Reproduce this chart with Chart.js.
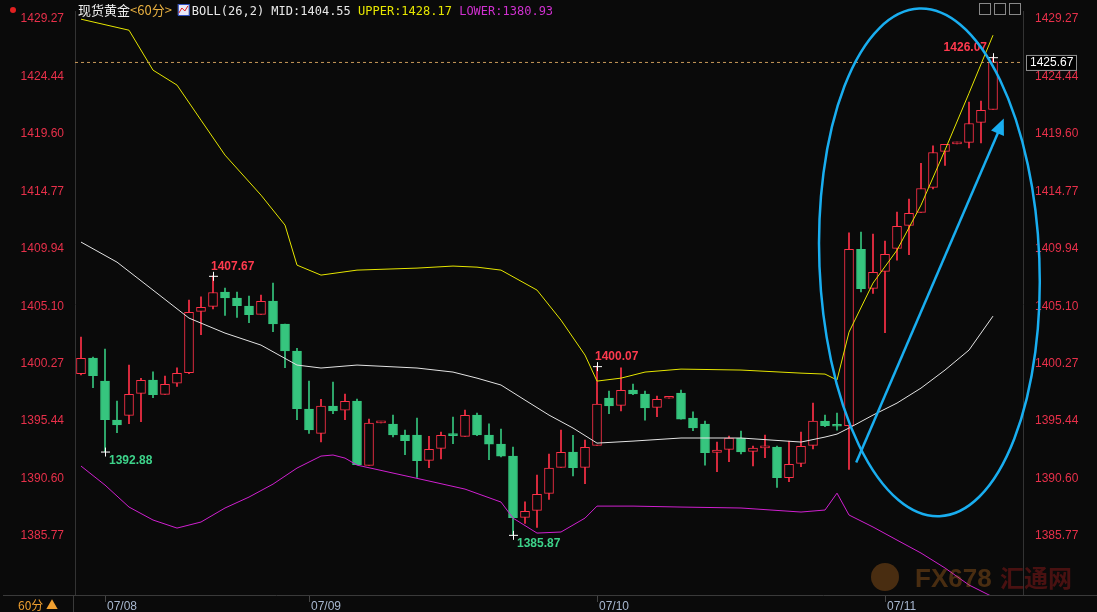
<!DOCTYPE html>
<html><head><meta charset="utf-8">
<script src="https://cdn.jsdelivr.net/npm/chart.js@4"></script>
<style>html,body{margin:0;padding:0;background:#0a0a0a;overflow:hidden}canvas{display:block}</style>
</head><body><canvas id="c" width="1097" height="612"></canvas>
<script>
// candles [open, high, low, close]
const opens  = [1399.43,1400.75,1398.81,1395.53,1395.92,1397.78,1398.90,1397.69,1398.64,1399.51,1404.68,1405.10,1406.30,1405.79,1405.12,1404.42,1405.54,1403.61,1401.34,1396.46,1394.41,1396.71,1396.37,1397.13,1391.72,1395.30,1395.19,1394.27,1394.27,1392.14,1393.15,1394.27,1394.16,1395.95,1394.27,1393.51,1392.50,1387.34,1387.93,1389.36,1391.55,1392.84,1391.55,1393.40,1397.38,1396.77,1398.05,1397.72,1396.60,1397.37,1397.80,1395.70,1395.19,1392.81,1393.06,1393.99,1392.90,1393.19,1393.26,1390.68,1391.89,1393.40,1395.45,1395.09,1395.05,1409.89,1406.61,1408.04,1409.98,1411.91,1413.01,1415.11,1418.14,1418.77,1418.90,1420.58,1421.67];
const closes = [1400.72,1399.26,1395.56,1395.13,1397.69,1398.87,1397.66,1398.53,1399.46,1404.59,1405.01,1406.27,1405.82,1405.15,1404.39,1405.52,1403.63,1401.36,1396.48,1394.71,1396.71,1396.31,1397.10,1391.77,1395.28,1395.38,1394.27,1393.79,1392.11,1393.06,1394.24,1394.22,1395.92,1394.27,1393.51,1392.50,1387.31,1387.85,1389.28,1391.49,1392.81,1391.52,1393.23,1396.88,1396.73,1398.03,1397.74,1396.56,1397.27,1397.45,1395.61,1394.88,1392.78,1393.01,1394.01,1392.86,1393.17,1393.27,1390.68,1391.80,1393.32,1395.45,1395.05,1395.01,1409.89,1406.58,1407.96,1409.47,1411.83,1412.92,1415.02,1418.05,1418.73,1418.85,1420.49,1421.59,1425.67];
const highs  = [1402.51,1400.83,1401.50,1397.13,1400.16,1399.04,1399.59,1399.23,1399.93,1405.63,1405.90,1407.67,1406.64,1406.30,1405.96,1406.05,1407.06,1403.61,1401.56,1398.81,1397.27,1398.73,1397.72,1397.30,1395.61,1395.40,1395.95,1394.69,1395.70,1394.16,1394.52,1395.78,1396.37,1396.12,1395.22,1394.77,1393.26,1388.65,1390.90,1392.67,1394.69,1394.24,1393.85,1400.07,1397.97,1399.93,1398.56,1397.97,1397.55,1397.45,1398.05,1396.23,1395.45,1393.68,1394.18,1394.60,1393.34,1394.27,1393.34,1393.76,1394.52,1396.96,1395.95,1396.12,1411.29,1411.35,1411.18,1410.59,1413.03,1414.12,1417.13,1418.61,1418.73,1418.92,1422.29,1422.37,1426.07];
const lows   = [1399.34,1398.25,1392.88,1394.46,1395.22,1395.39,1397.41,1397.69,1398.37,1399.43,1402.71,1404.89,1404.34,1404.17,1403.72,1404.42,1402.96,1399.93,1395.56,1394.41,1393.70,1396.06,1395.57,1391.77,1391.72,1395.30,1394.12,1392.61,1390.71,1391.52,1392.27,1393.54,1394.16,1394.21,1392.19,1392.42,1385.87,1386.84,1386.50,1388.86,1391.55,1390.84,1390.17,1393.40,1396.06,1396.31,1397.66,1395.53,1395.81,1397.37,1395.61,1394.63,1391.74,1391.18,1392.02,1392.69,1391.68,1392.36,1389.87,1390.34,1391.60,1393.11,1394.97,1394.69,1391.38,1406.32,1406.19,1402.88,1408.99,1409.44,1413.01,1414.99,1416.96,1418.77,1418.44,1418.86,1421.67];
// BOLL bands, sampled [candle index, value]
const upperBand = [[0,1429.27],[4,1428.34],[6,1424.98],[8,1423.72],[10,1420.77],[12,1417.83],[15,1414.46],[17,1411.94],[18,1408.57],[20,1407.73],[23,1408.15],[28,1408.32],[31,1408.49],[33,1408.40],[35,1408.15],[38,1406.47],[40,1403.94],[42,1401.00],[43,1398.81],[45,1399.06],[47,1399.57],[50,1399.82],[55,1399.74],[60,1399.48],[62,1399.40],[63,1398.90],[64,1402.93],[66,1407.06],[68,1409.83],[70,1413.62],[72,1418.25],[74,1423.04],[76,1427.92]];
const midBand = [[0,1410.51],[3,1408.82],[6,1406.47],[9,1404.11],[12,1402.85],[15,1401.84],[18,1400.16],[20,1399.91],[23,1400.16],[28,1399.91],[31,1399.57],[33,1399.06],[35,1398.48],[37,1397.21],[39,1395.95],[41,1394.86],[43,1393.59],[46,1393.76],[50,1394.02],[55,1394.02],[60,1393.68],[62,1394.10],[63,1394.35],[64,1394.86],[66,1395.95],[68,1396.96],[70,1398.22],[72,1399.74],[74,1401.42],[76,1404.28]];
const lowerBand = [[0,1391.66],[2,1390.06],[4,1388.21],[6,1387.12],[8,1386.44],[10,1386.95],[12,1388.13],[14,1389.05],[16,1390.14],[18,1391.49],[20,1392.50],[21,1392.59],[22,1392.33],[23,1391.74],[26,1391.07],[29,1390.40],[32,1389.72],[35,1388.63],[36,1387.28],[38,1386.02],[40,1386.11],[42,1387.28],[43,1388.29],[46,1388.29],[50,1388.21],[55,1388.13],[60,1387.79],[62,1387.96],[63,1389.38],[64,1387.54],[66,1386.53],[68,1385.43],[70,1384.34],[72,1383.08],[74,1381.65],[76,1380.64]];
const yTicks = [1429.27,1424.44,1419.60,1414.77,1409.94,1405.10,1400.27,1395.44,1390.60,1385.77];
const dateTicks = {2:'07/08',19:'07/09',43:'07/10',67:'07/11'};
const marks = [[11,1407.67,'high'],[2,1392.88,'low'],[36,1385.87,'low'],[43,1400.07,'high'],[76,1426.07,'high']];
const lastPrice = 1425.67;

const N = opens.length, EXTRA = 2;
const labels = Array.from({length:N+EXTRA},(_,i)=>String(i));
const UP='#ff3148', DN='#36c57e';
const isUp = opens.map((o,i)=>closes[i]>=o);
const bodies = opens.map((o,i)=>[o,closes[i]]);
const wicks = lows.map((l,i)=>[l,highs[i]]);
const toPts = arr => arr.map(([i,v])=>({x:String(i),y:v}));

const overlay = {
  id:'overlay',
  afterDatasetsDraw(ch){
    const c=ch.ctx, xs=ch.scales.x, ys=ch.scales.y, a=ch.chartArea;
    const ly=ys.getPixelForValue(lastPrice);
    c.save();
    c.strokeStyle='#c89a5a'; c.setLineDash([3,3]); c.lineWidth=1;
    c.beginPath(); c.moveTo(a.left,ly+0.5); c.lineTo(a.right,ly+0.5); c.stroke();
    c.setLineDash([]);
    c.font='bold 12px "Liberation Sans", Arial';
    marks.forEach(([i,v,t])=>{
      const x=xs.getPixelForValue(i), y=ys.getPixelForValue(v);
      c.strokeStyle='#ffffff'; c.lineWidth=1;
      c.beginPath(); c.moveTo(x-4,y+0.5); c.lineTo(x+5,y+0.5); c.moveTo(x+0.5,y-4); c.lineTo(x+0.5,y+5); c.stroke();
      if(t==='high'){ c.fillStyle='#ff3a4e'; c.textAlign= i===76?'right':'left'; c.fillText(v.toFixed(2), i===76?x-6:x-2, y-6); }
      else { c.fillStyle='#3dd38a'; c.textAlign='left'; c.fillText(v.toFixed(2), x+4, y+12); }
    });
    c.strokeStyle='#19aef0'; c.lineWidth=2.5;
    c.beginPath(); c.ellipse(xs.getPixelForValue(70.7), ys.getPixelForValue(1408.8), 110, 254, -0.04, 0, Math.PI*2); c.stroke();
    const x1=xs.getPixelForValue(64.6), y1=ys.getPixelForValue(1391.95), x2=xs.getPixelForValue(76.9), y2=ys.getPixelForValue(1420.9);
    c.beginPath(); c.moveTo(x1,y1); c.lineTo(x2-4,y2+10); c.stroke();
    const ang=Math.atan2(y2-y1,x2-x1);
    c.fillStyle='#19aef0'; c.beginPath(); c.moveTo(x2,y2);
    c.lineTo(x2-16*Math.cos(ang)+7*Math.sin(ang), y2-16*Math.sin(ang)-7*Math.cos(ang));
    c.lineTo(x2-16*Math.cos(ang)-7*Math.sin(ang), y2-16*Math.sin(ang)+7*Math.cos(ang));
    c.closePath(); c.fill();
    c.fillStyle='#000'; c.fillRect(a.right+3, ly-7, 50, 15);
    c.strokeStyle='#909090'; c.lineWidth=1; c.strokeRect(a.right+3.5, ly-6.5, 50, 15);
    c.fillStyle='#ffffff'; c.font='12px "Liberation Sans", Arial'; c.textAlign='left'; c.textBaseline='middle';
    c.fillText(lastPrice.toFixed(2), a.right+7, ly+1);
    c.textBaseline='alphabetic'; c.font='13px "Noto Sans CJK SC", "Liberation Sans"';
    let x=78; const ty=15;
    const seg=(t,col)=>{c.fillStyle=col;c.fillText(t,x,ty);x+=c.measureText(t).width;};
    seg('现货黄金','#f0f0f0'); seg('<60分>','#e8b040'); x+=6;
    c.fillStyle='#e8e8f8'; c.fillRect(x,4,11,11); c.strokeStyle='#3050c0'; c.strokeRect(x+0.5,4.5,11,11);
    c.strokeStyle='#e02020'; c.beginPath(); c.moveTo(x+1,13); c.lineTo(x+4,8); c.lineTo(x+7,11); c.lineTo(x+10,6); c.stroke(); x+=14;
    c.font='12px "DejaVu Sans Mono", monospace';
    seg('BOLL(26,2) MID:1404.55 ','#e8e8e8'); seg('UPPER:1428.17 ','#e6e600'); seg('LOWER:1380.93','#d030d0');
    c.fillStyle='#e02020'; c.beginPath(); c.arc(13,10,3,0,Math.PI*2); c.fill();
    c.strokeStyle='#888'; [0,1,2].forEach(k=>{c.strokeRect(979.5+k*15,3.5,11,11);});
    c.fillStyle='#0a0a0a'; c.fillRect(0,596,1097,16);
    c.strokeStyle='#3a3a3a'; c.beginPath(); c.moveTo(3,595.5); c.lineTo(1097,595.5); c.stroke();
    c.beginPath(); c.moveTo(73.5,596); c.lineTo(73.5,612); c.stroke();
    c.fillStyle='#f0a030'; c.font='12px "Noto Sans CJK SC"'; c.fillText('60分 ▲',18,610);
    Object.entries(dateTicks).forEach(([i,t])=>{const px=Math.round(xs.getPixelForValue(Number(i)));
      c.fillStyle='#a8b8d0'; c.font='12px "Liberation Sans", Arial'; c.textAlign='left'; c.fillText(t,px+2,610);
      c.strokeStyle='#444'; c.beginPath(); c.moveTo(px+0.5,596); c.lineTo(px+0.5,602); c.stroke();});
    c.globalAlpha=0.35; c.font='bold 26px "Liberation Sans"'; c.fillStyle='#c07020'; c.textAlign='left';
    c.beginPath(); c.arc(885,577,14,0,Math.PI*2); c.fill();
    c.fillText('FX678',915,587); c.font='bold 24px "Noto Sans CJK SC"'; c.fillStyle='#c02020'; c.fillText('汇通网',1000,587);
    c.restore();
  }
};

new Chart(document.getElementById('c'),{
  data:{labels,datasets:[
    {type:'bar',data:wicks,backgroundColor:isUp.map(u=>u?UP:DN),barThickness:1,grouped:false,order:3,yAxisID:'y'},
    {type:'bar',data:bodies,backgroundColor:isUp.map(u=>u?'#0a0a0a':DN),borderColor:isUp.map(u=>u?UP:DN),borderWidth:1,borderSkipped:false,barThickness:9,minBarLength:2,grouped:false,order:2,yAxisID:'y'},
    {type:'line',data:toPts(upperBand),borderColor:'#e6e600',borderWidth:1,pointRadius:0,spanGaps:true,order:1,yAxisID:'y'},
    {type:'line',data:toPts(midBand),borderColor:'#e4e4e4',borderWidth:1,pointRadius:0,spanGaps:true,order:1,yAxisID:'y'},
    {type:'line',data:toPts(lowerBand),borderColor:'#d020d0',borderWidth:1,pointRadius:0,spanGaps:true,order:1,yAxisID:'y'}
  ]},
  options:{responsive:false,animation:false,devicePixelRatio:1,
    layout:{padding:0},
    plugins:{legend:{display:false},tooltip:{enabled:false}},
    scales:{
      x:{type:'category',offset:true,grid:{display:false},border:{display:false},
        ticks:{display:false},afterFit(s){s.height=15;}},
      y:{position:'left',min:1380.64,max:1429.94,grid:{display:false},border:{display:true,color:'#333'},
        afterBuildTicks(s){s.ticks=yTicks.map(v=>({value:v}));},
        afterFit(s){s.width=75;},
        ticks:{color:'#e8304a',padding:3,font:{size:12,family:'"Liberation Sans", Arial'},callback:v=>v.toFixed(2)}},
      y2:{position:'right',min:1380.64,max:1429.94,grid:{display:false},border:{display:true,color:'#333'},
        afterBuildTicks(s){s.ticks=yTicks.map(v=>({value:v}));},
        afterFit(s){s.width=74;},
        ticks:{color:'#e8304a',padding:4,font:{size:12,family:'"Liberation Sans", Arial'},callback:v=>v.toFixed(2)}}
    }
  },
  plugins:[overlay]
});
</script></body></html>
